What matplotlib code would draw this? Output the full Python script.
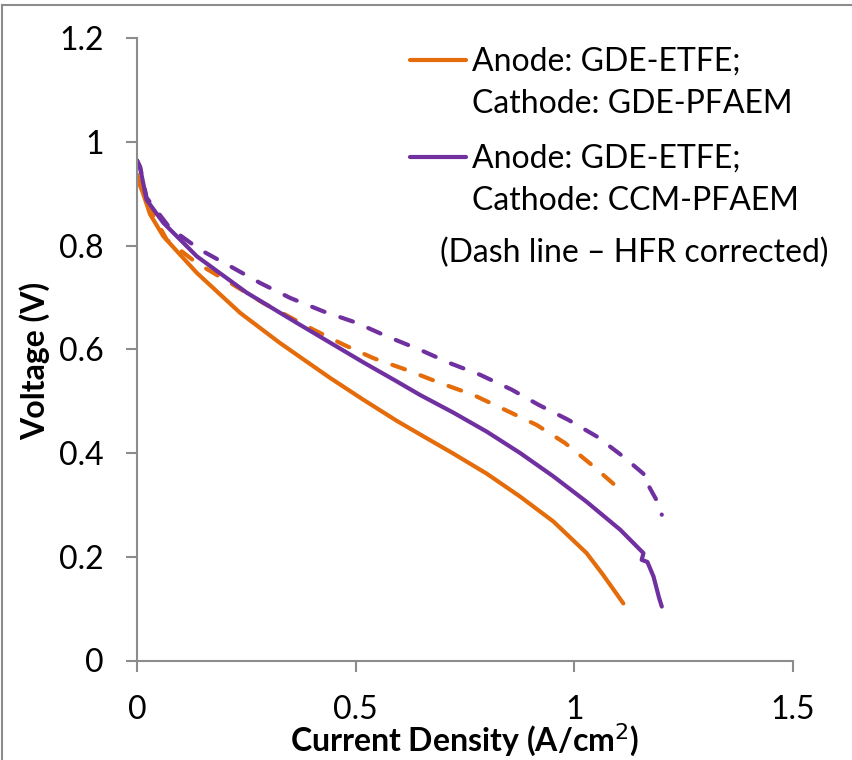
import matplotlib
matplotlib.use("Agg")
import matplotlib.pyplot as plt
from matplotlib.lines import Line2D

plt.rcParams['font.family'] = ['Lato', 'DejaVu Sans']

# GDE-ETFE anode / GDE-PFAEM cathode
gde_j = [0, 0.004, 0.014, 0.03, 0.06, 0.137, 0.236, 0.327, 0.441, 0.517, 0.594,
         0.647, 0.723, 0.800, 0.876, 0.952, 1.028, 1.065, 1.097, 1.112]
gde_v = [0.937, 0.922, 0.900, 0.860, 0.818, 0.747, 0.670, 0.612, 0.545, 0.503, 0.462,
         0.436, 0.399, 0.360, 0.316, 0.268, 0.207, 0.166, 0.128, 0.110]
# HFR corrected
gde_hfr_j = [0, 0.004, 0.014, 0.03, 0.068, 0.137, 0.213, 0.289, 0.403, 0.472, 0.540,
             0.617, 0.693, 0.769, 0.842, 0.914, 0.979, 1.040, 1.097, 1.108]
gde_hfr_v = [0.935, 0.925, 0.910, 0.870, 0.811, 0.766, 0.728, 0.689, 0.638, 0.609, 0.583,
             0.560, 0.535, 0.512, 0.483, 0.454, 0.419, 0.377, 0.335, 0.323]

# GDE-ETFE anode / CCM-PFAEM cathode
ccm_j = [0, 0.007, 0.022, 0.06, 0.137, 0.251, 0.365, 0.441, 0.517, 0.594, 0.647,
         0.723, 0.800, 0.876, 0.952, 1.028, 1.105, 1.158, 1.154, 1.167, 1.181, 1.194,
         1.200]
ccm_v = [0.964, 0.950, 0.888, 0.844, 0.779, 0.709, 0.651, 0.613, 0.575, 0.538, 0.512,
         0.478, 0.441, 0.400, 0.355, 0.306, 0.252, 0.207, 0.194, 0.190, 0.162, 0.120,
         0.104]
ccm_hfr_j = [0, 0.007, 0.022, 0.075, 0.144, 0.213, 0.281, 0.350, 0.426, 0.502, 0.571,
             0.647, 0.716, 0.784, 0.857, 0.918, 0.986, 1.051, 1.112, 1.158, 1.162,
             1.158, 1.167, 1.192, 1.200]
ccm_hfr_v = [0.964, 0.952, 0.892, 0.834, 0.792, 0.760, 0.728, 0.699, 0.673, 0.651, 0.625,
             0.599, 0.573, 0.551, 0.522, 0.493, 0.464, 0.432, 0.393, 0.360, 0.352,
             0.350, 0.341, 0.303, 0.281]

labels = ['Anode: GDE-ETFE;', 'Cathode: GDE-PFAEM',
          'Anode: GDE-ETFE;', 'Cathode: CCM-PFAEM']
note = '(Dash line \u2013 HFR corrected)'

orange = '#E46C0A'
purple = '#7030A0'
grey = '#8C8C8C'
fs = 23

W, H = 852, 760
fig = plt.figure(figsize=(W / 100, H / 100), dpi=100)
ax = fig.add_axes([137 / W, 99.5 / H, 656 / W, 622.5 / H])

kw = dict(lw=3, solid_capstyle='round', dash_capstyle='round')
dash = (0, (3.2, 4.0))
l1, = ax.plot(gde_j, gde_v, color=orange, **kw)
ax.plot(gde_hfr_j, gde_hfr_v, color=orange, ls=dash, **kw)
l2, = ax.plot(ccm_j, ccm_v, color=purple, **kw)
ax.plot(ccm_hfr_j, ccm_hfr_v, color=purple, ls=dash, **kw)

ax.set_xlim(0, 1.5)
ax.set_ylim(0, 1.2)
ax.set_xticks([0, 0.5, 1, 1.5])
ax.set_xticklabels(['0', '0.5', '1', '1.5'])
ax.set_yticks([0, 0.2, 0.4, 0.6, 0.8, 1, 1.2])
ax.set_yticklabels(['0', '0.2', '0.4', '0.6', '0.8', '1', '1.2'])
for s in ['top', 'right']:
    ax.spines[s].set_visible(False)
for s in ['left', 'bottom']:
    ax.spines[s].set_color(grey)
    ax.spines[s].set_linewidth(1.5)
ax.tick_params(axis='both', length=8, width=1.5, color=grey, labelsize=fs,
               labelcolor='black')
ax.tick_params(axis='y', pad=16)
ax.tick_params(axis='x', pad=17)
ax.set_xlabel('Current Density (A/cm$^2$)', fontsize=fs, fontweight='bold', labelpad=-2)
ax.set_ylabel('Voltage (V)', fontsize=fs, fontweight='bold')
ax.yaxis.set_label_coords(-0.132, 0.482)

blank = Line2D([], [], color='none')


def px(x, y):
    # figure pixel (from top-left) -> axes fraction
    return ((x - 137) / 656, (660.5 - y) / 622.5)


leg_kw = dict(loc='upper left', frameon=False, fontsize=fs, borderpad=0,
              borderaxespad=0, handlelength=1.75, handletextpad=0.18,
              labelspacing=0.38)
leg1 = ax.legend([l1, blank], labels[:2], bbox_to_anchor=px(410, 47), **leg_kw)
ax.add_artist(leg1)
leg2 = ax.legend([l2, blank], labels[2:], bbox_to_anchor=px(410, 144), **leg_kw)
ax.text(*px(440, 253), note, transform=ax.transAxes, fontsize=fs,
        ha='left', va='center')

# outer frame (left and top edges)
fig.add_artist(Line2D([1.5 / W, 1.5 / W], [0, 1 - 5 / H], color=grey, lw=1.5))
fig.add_artist(Line2D([1.5 / W, 1], [1 - 5 / H, 1 - 5 / H], color=grey, lw=1.5))

fig.savefig('out.png', dpi=100)
